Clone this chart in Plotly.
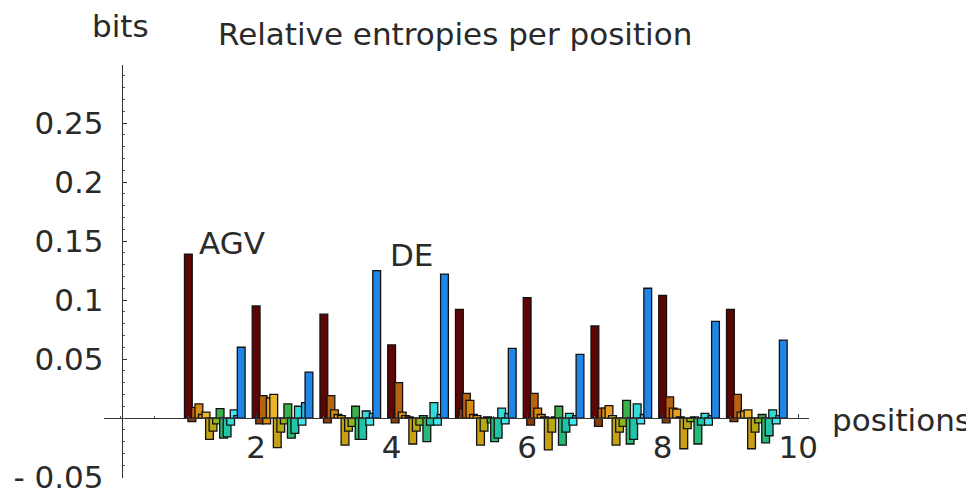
import plotly.graph_objects as go

# positions along the sequence
positions = [1, 2, 3, 4, 5, 6, 7, 8, 9]

# relative entropy (bits) per residue class at each position
pos1 = [0.139, -0.003, 0.009, 0.012, 0.003, 0.005, -0.018, -0.011, -0.005, 0.008, -0.017, -0.016, -0.006, 0.007, 0.002, 0.060]
pos2 = [0.095, -0.005, 0.019, -0.005, 0.017, 0.020, -0.025, -0.012, -0.005, 0.012, -0.017, -0.013, 0.010, -0.006, 0.013, 0.039]
pos3 = [0.088, -0.004, 0.019, 0.007, 0.003, 0.002, -0.023, -0.011, -0.007, 0.010, -0.018, -0.018, 0.006, -0.006, 0.004, 0.125]
pos4 = [0.062, -0.004, 0.030, 0.005, 0.002, 0.001, -0.022, -0.011, -0.006, 0.002, -0.020, -0.006, 0.013, -0.006, 0.003, 0.122]
pos5 = [0.092, 0.008, 0.021, 0.015, 0.003, 0.002, -0.023, -0.011, 0.001, -0.004, -0.020, -0.017, 0.0085, -0.005, 0.004, 0.059]
pos6 = [0.102, -0.006, 0.021, 0.0085, 0.003, 0.001, -0.027, -0.012, 0.001, 0.010, -0.023, -0.012, 0.004, -0.006, 0.002, 0.054]
pos7 = [0.078, -0.007, 0.0085, 0.0085, 0.0105, 0.002, -0.023, -0.012, -0.007, 0.015, -0.022, -0.018, 0.012, -0.005, 0.003, 0.110]
pos8 = [0.104, -0.004, 0.018, 0.0085, 0.0075, 0.001, -0.026, -0.009, -0.003, 0.001, -0.022, -0.006, 0.004, -0.006, 0.002, 0.082]
pos9 = [0.092, -0.003, 0.020, 0.005, 0.006, 0.007, -0.026, -0.012, -0.004, 0.003, -0.021, -0.015, 0.007, -0.005, 0.002, 0.066]

x_tick_vals = [2, 4, 6, 8, 10]
x_tick_text = ["2", "4", "6", "8", "10"]
y_tick_vals = [-0.05, 0.05, 0.1, 0.15, 0.2, 0.25]
y_tick_text = ["- 0.05", "0.05", "0.1", "0.15", "0.2", "0.25"]

colors = ["#5e0505", "#8b3a0a", "#b8620e", "#d98a10", "#e8a020", "#ebb52a",
          "#c9a012", "#b4a814", "#8fb41a", "#3cb04a", "#28b878", "#22c4a8",
          "#30dcd8", "#44e6ee", "#3ab0f0", "#1e86e6"]

rows = [pos1, pos2, pos3, pos4, pos5, pos6, pos7, pos8, pos9]
n_cls = len(colors)
step = 0.052
bw = 0.115

fig = go.Figure()
for k in range(n_cls):
    fig.add_trace(go.Bar(
        x=positions,
        y=[r[k] for r in rows],
        width=bw,
        offset=k * step - bw / 2,
        marker=dict(color=colors[k], line=dict(color="#111111", width=1.3)),
        showlegend=False,
    ))

font_fam = "DejaVu Sans"
fs = 31
tfs = 31

# the page body adds 8 px around the figure, so the figure is 8 px smaller each way
fig.update_layout(
    width=966, height=484,
    margin=dict(l=96, r=165, t=57, b=14, autoexpand=False),
    barmode="overlay",
    paper_bgcolor="white",
    plot_bgcolor="white",
    font=dict(family=font_fam, size=fs, color="#2a2a2a"),
    xaxis=dict(
        range=[-0.245, 10.16],
        anchor="free", position=0.1452,
        showgrid=False, zeroline=False,
        showline=True, linecolor="#333333", linewidth=1,
        tickmode="array", tickvals=x_tick_vals, ticktext=x_tick_text,
        ticks="inside", ticklen=4, tickcolor="#333333",
        minor=dict(dtick=0.5, tick0=0, ticks="inside", ticklen=2, tickcolor="#555555"),
        tickfont=dict(family=font_fam, size=tfs, color="#2a2a2a"),
        ticklabelstandoff=2,
        ticklabeloverflow="allow",
        automargin=False,
    ),
    yaxis=dict(
        range=[-0.0508, 0.2992],
        anchor="free", position=0.0251,
        showgrid=False, zeroline=False,
        showline=True, linecolor="#333333", linewidth=1,
        tickmode="array", tickvals=y_tick_vals, ticktext=y_tick_text,
        ticks="inside", ticklen=4, tickcolor="#333333",
        minor=dict(dtick=0.01, tick0=0, ticks="inside", ticklen=2, tickcolor="#555555"),
        tickfont=dict(family=font_fam, size=tfs, color="#2a2a2a"),
        ticklabelstandoff=12,
        ticklabeloverflow="allow",
        automargin=False,
    ),
    annotations=[
        dict(text="bits", xref="paper", yref="paper", x=0.0241, y=1.094,
             xanchor="center", yanchor="middle", showarrow=False),
        dict(text="Relative entropies per position", xref="paper", yref="paper",
             x=0.498, y=1.075, xanchor="center", yanchor="middle", showarrow=False),
        dict(text="positions", xref="paper", yref="paper", x=1.0298, y=0.14,
             xanchor="left", yanchor="middle", showarrow=False),
        dict(text="AGV", xref="x", yref="y", x=1.133, y=0.1486,
             xanchor="left", yanchor="middle", showarrow=False),
        dict(text="DE", xref="x", yref="y", x=3.952, y=0.1384,
             xanchor="left", yanchor="middle", showarrow=False),
    ],
)

fig.write_html("out.html")
